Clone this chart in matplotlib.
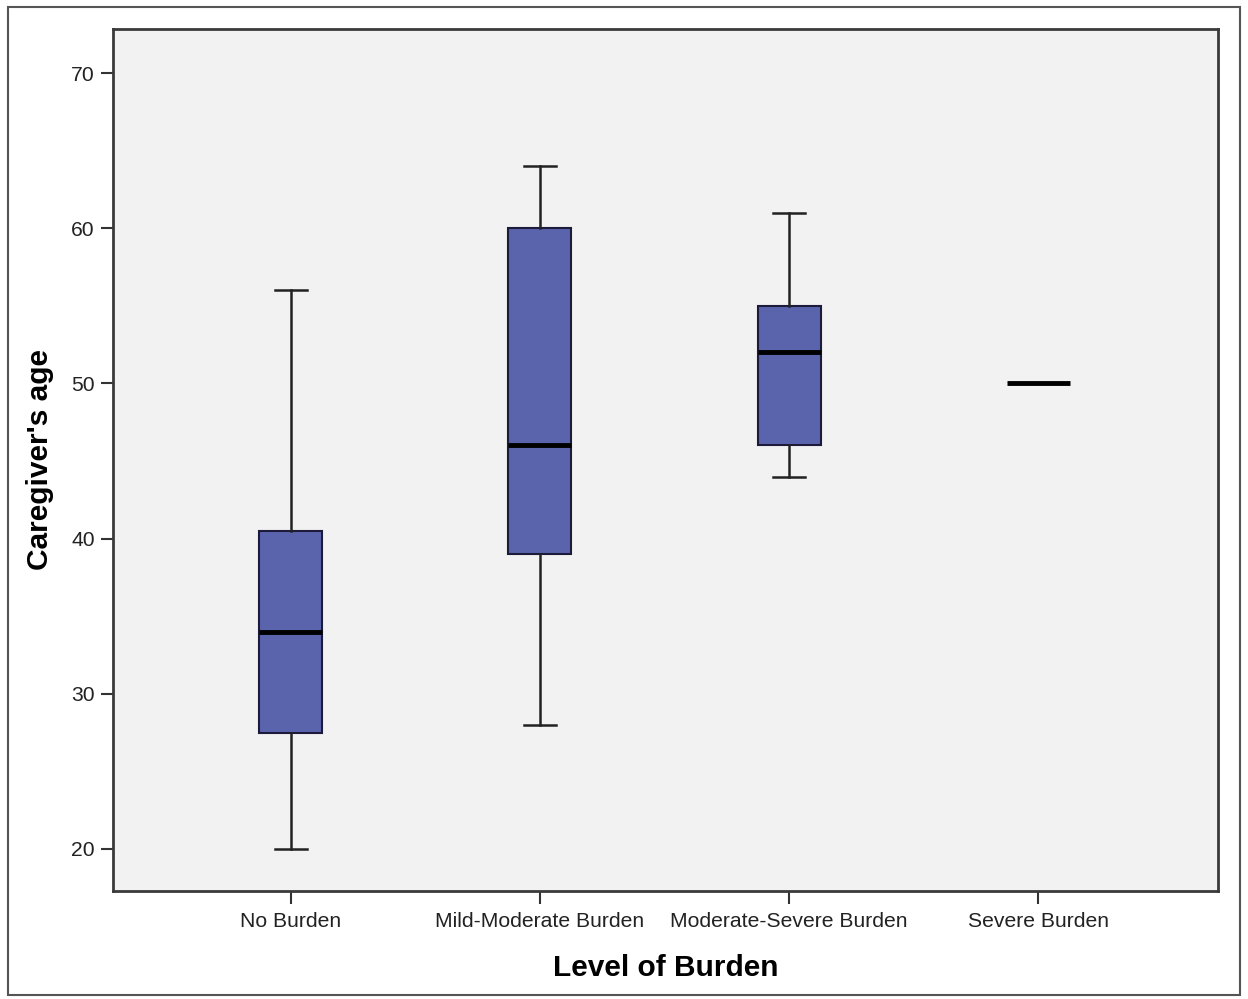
import matplotlib.pyplot as plt
from matplotlib.patches import Rectangle

plt.rcParams['font.family'] = ['Liberation Sans', 'DejaVu Sans']

# box plot summary values
categories = ["No Burden", "Mild-Moderate Burden", "Moderate-Severe Burden", "Severe Burden"]
whisker_low = [20, 28, 44, 50]
q1 = [27.5, 39, 46, 50]
median = [34, 46, 52, 50]
q3 = [40.5, 60, 55, 50]
whisker_high = [56, 64, 61, 50]
yticks = [20, 30, 40, 50, 60, 70]

stats = []
for i, name in enumerate(categories):
    stats.append({"label": name, "whislo": whisker_low[i], "q1": q1[i], "med": median[i],
                  "q3": q3[i], "whishi": whisker_high[i], "fliers": []})

fig = plt.figure(figsize=(12.48, 9.99), dpi=100)
ax = fig.add_axes([0.0905, 0.1081, 0.8855, 0.8629])
ax.set_facecolor("#f2f2f2")

has_box = [True, True, True, False]
positions = list(range(len(categories)))
for i in positions:
    if has_box[i]:
        ax.bxp([stats[i]], positions=[i], widths=0.253, patch_artist=True, showfliers=False,
               boxprops=dict(facecolor="#5a64ad", edgecolor="#1c1c3a", linewidth=1.5),
               whiskerprops=dict(color="#222222", linewidth=1.8),
               capprops=dict(color="#222222", linewidth=1.8),
               medianprops=dict(color="black", linewidth=3.5),
               capwidths=0.128)
    else:
        # single value group: only the median line
        ax.hlines(median[i], i - 0.1265, i + 0.1265, color="black", linewidth=3.5)

ax.set_xlim(-0.715, 3.723)
ax.set_ylim(17.29, 72.84)
ax.set_xticks(positions)
ax.set_xticklabels(categories, fontsize=15.2, color="#222222")
ax.set_yticks(yticks)
ax.set_yticklabels([str(v) for v in yticks], fontsize=15.2, color="#222222")
ax.tick_params(axis="both", length=9, width=1.5, color="#333333", pad=4)
ax.tick_params(axis="x", pad=6)

for sp in ax.spines.values():
    sp.set_color("#3a3a3a")
    sp.set_linewidth(2)

ax.set_xlabel("Level of Burden", fontsize=21.5, fontweight="bold", labelpad=17)
ax.set_ylabel("Caregiver's age", fontsize=21.5, fontweight="bold", labelpad=12)

fig.patches.append(Rectangle((8 / 1248, 4 / 999), 1232 / 1248, 988 / 999, transform=fig.transFigure,
                             fill=False, edgecolor="#555555", linewidth=1.5))

fig.savefig("out.png", dpi=100)
